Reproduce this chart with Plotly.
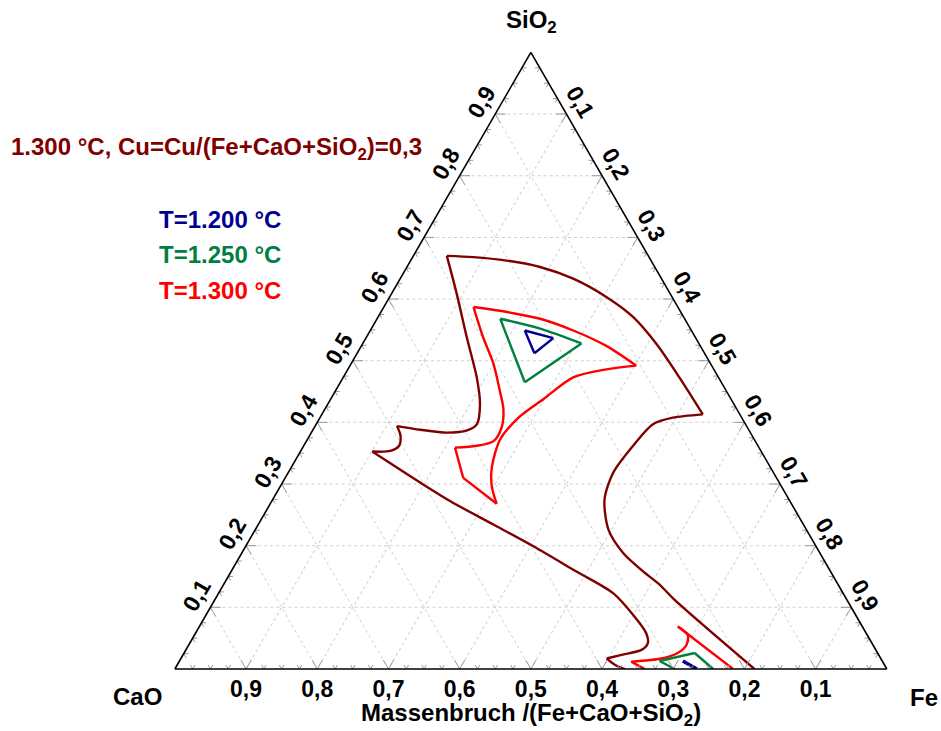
import plotly.graph_objects as go

FONT = "Liberation Sans, Arial, sans-serif"

# Mass fractions (SiO2, CaO, Fe) of the liquid-region boundaries

# 1.300 °C, Cu/(Fe+CaO+SiO2)=0,3 - outer boundary (open, both ends on the CaO-Fe side)
outer_sio2 = [0.000, 0.112, 0.137, 0.158, 0.188, 0.226, 0.275, 0.318, 0.362, 0.397,
              0.408, 0.413, 0.473, 0.527, 0.571, 0.603, 0.633, 0.652, 0.663, 0.668,
              0.670, 0.608, 0.538, 0.473, 0.430, 0.397, 0.387, 0.383, 0.388, 0.394,
              0.378, 0.362, 0.354, 0.353, 0.302, 0.272, 0.234, 0.199, 0.158, 0.123,
              0.085, 0.058, 0.042, 0.031, 0.023, 0.017, 0.007, 0.000]
outer_cao = [0.186, 0.242, 0.251, 0.263, 0.276, 0.278, 0.259, 0.225, 0.176, 0.130,
             0.097, 0.052, 0.055, 0.060, 0.071, 0.092, 0.124, 0.161, 0.203, 0.247,
             0.283, 0.300, 0.321, 0.340, 0.357, 0.378, 0.396, 0.426, 0.461, 0.491,
             0.494, 0.505, 0.521, 0.547, 0.504, 0.477, 0.435, 0.397, 0.357, 0.323,
             0.312, 0.309, 0.315, 0.329, 0.361, 0.385, 0.379, 0.368]
outer_fe = [0.814, 0.646, 0.613, 0.579, 0.535, 0.496, 0.466, 0.456, 0.463, 0.473,
            0.496, 0.535, 0.473, 0.413, 0.358, 0.305, 0.243, 0.187, 0.135, 0.085,
            0.047, 0.092, 0.141, 0.188, 0.214, 0.226, 0.217, 0.190, 0.151, 0.115,
            0.128, 0.134, 0.126, 0.101, 0.194, 0.251, 0.330, 0.404, 0.485, 0.554,
            0.603, 0.633, 0.644, 0.640, 0.616, 0.598, 0.615, 0.632]
outer_corners = [0, 11, 20, 29, 33, 45, 47]

# T = 1.300 °C
t1300_sio2 = [0.587, 0.579, 0.568, 0.549, 0.524, 0.492, 0.486, 0.473, 0.438, 0.410,
              0.373, 0.329, 0.297, 0.268, 0.310, 0.359, 0.362, 0.370, 0.392, 0.421,
              0.451, 0.495, 0.538, 0.587]
t1300_cao = [0.287, 0.244, 0.203, 0.166, 0.132, 0.106, 0.151, 0.204, 0.264, 0.310,
             0.357, 0.390, 0.407, 0.414, 0.440, 0.427, 0.395, 0.368, 0.345, 0.328,
             0.318, 0.305, 0.298, 0.287]
t1300_fe = [0.126, 0.177, 0.229, 0.285, 0.344, 0.402, 0.363, 0.323, 0.299, 0.280,
            0.271, 0.281, 0.297, 0.318, 0.250, 0.214, 0.243, 0.263, 0.263, 0.251,
            0.231, 0.200, 0.164, 0.126]
t1300_corners = [0, 5, 13, 14, 15, 23]
t1300_low_sio2 = [0.000, 0.012, 0.017, 0.026, 0.039, 0.055, 0.069, 0.000]
t1300_low_cao = [0.340, 0.353, 0.308, 0.281, 0.262, 0.252, 0.259, 0.216]
t1300_low_fe = [0.660, 0.635, 0.675, 0.694, 0.699, 0.693, 0.672, 0.784]
t1300_low_corners = [0, 1, 6, 7]

# T = 1.250 °C
t1250_sio2 = [0.568, 0.552, 0.528, 0.465, 0.568]
t1250_cao = [0.259, 0.211, 0.165, 0.276, 0.259]
t1250_fe = [0.173, 0.237, 0.307, 0.259, 0.173]
t1250_corners = [0, 2, 3, 4]
t1250_low_sio2 = [0.000, 0.013, 0.026, 0.000]
t1250_low_cao = [0.298, 0.313, 0.257, 0.244]
t1250_low_fe = [0.702, 0.675, 0.717, 0.756]
t1250_low_corners = [0, 1, 2, 3]

# T = 1.200 °C
t1200_sio2 = [0.549, 0.536, 0.512, 0.549]
t1200_cao = [0.234, 0.200, 0.239, 0.234]
t1200_fe = [0.217, 0.263, 0.249, 0.217]
t1200_corners = [0, 1, 2, 3]
t1200_low_sio2 = [0.013, 0.000]
t1200_low_cao = [0.280, 0.267]
t1200_low_fe = [0.707, 0.733]
t1200_low_corners = [0, 1]

tick_values = [0.1, 0.2, 0.3, 0.4, 0.5, 0.6, 0.7, 0.8, 0.9]
minor_step = 0.025

C_OUTER = "#800000"
C_1300 = "#ff0000"
C_1250 = "#008040"
C_1200 = "#000090"
C_TICK = "#9a9a9a"

fig = go.Figure()


def add_curve(sio2, cao, fe, corners, color, width=2.4):
    # each run between two corner points is drawn as a smooth spline,
    # so the sharp corners of the boundary stay sharp
    for i0, i1 in zip(corners[:-1], corners[1:]):
        seg = slice(i0, i1 + 1)
        smooth = (i1 - i0) > 1
        fig.add_trace(go.Scatterternary(
            a=sio2[seg], b=cao[seg], c=fe[seg], mode="lines",
            line=dict(color=color, width=width,
                      shape="spline" if smooth else "linear", smoothing=0.8),
            showlegend=False, hoverinfo="skip"))


add_curve(outer_sio2, outer_cao, outer_fe, outer_corners, C_OUTER)
add_curve(t1300_sio2, t1300_cao, t1300_fe, t1300_corners, C_1300)
add_curve(t1300_low_sio2, t1300_low_cao, t1300_low_fe, t1300_low_corners, C_1300)
add_curve(t1250_sio2, t1250_cao, t1250_fe, t1250_corners, C_1250)
add_curve(t1250_low_sio2, t1250_low_cao, t1250_low_fe, t1250_low_corners, C_1250)
add_curve(t1200_sio2, t1200_cao, t1200_fe, t1200_corners, C_1200)
add_curve(t1200_low_sio2, t1200_low_cao, t1200_low_fe, t1200_low_corners, C_1200,
          width=3.6)

# chevron tick marks along the three sides (major every 0.1, minor every 0.025)
edge_a, edge_b, edge_c = [], [], []
for k in range(1, 40):
    v = k * minor_step
    d = 0.0145 if k % 4 == 0 else 0.0065
    # bottom side (SiO2 = 0), value = CaO
    edge_a += [d, 0, d, None]
    edge_b += [v, v, v - d, None]
    edge_c += [1 - v - d, 1 - v, 1 - v, None]
    # left side (Fe = 0), value = SiO2
    edge_a += [v, v, v - d, None]
    edge_b += [1 - v - d, 1 - v, 1 - v, None]
    edge_c += [d, 0, d, None]
    # right side (CaO = 0), value = Fe
    edge_a += [1 - v, 1 - v, 1 - v - d, None]
    edge_b += [d, 0, d, None]
    edge_c += [v - d, v, v, None]
fig.add_trace(go.Scatterternary(
    a=edge_a, b=edge_b, c=edge_c, mode="lines",
    line=dict(color=C_TICK, width=1), connectgaps=False,
    showlegend=False, hoverinfo="skip"))

tick_font = dict(family=FONT, size=23, color="black", weight="bold")
axis_common = dict(
    tickmode="array", tickvals=tick_values, tickformat=".1f",
    ticks="", showline=True, linecolor="black", linewidth=1.6,
    showgrid=True, gridcolor="#cfcfcf", gridwidth=1, griddash="dot",
    tickfont=tick_font, min=0, title=dict(text=""),
)

W, H = 941, 731


def px(xp, yp):
    return xp / W, 1 - yp / H


ann_font = dict(family=FONT, size=24, weight="bold")
annotations = []


def label(text, xp, yp, color="black", xanchor="center"):
    x, y = px(xp, yp)
    annotations.append(dict(
        text=text, x=x, y=y, xref="paper", yref="paper",
        xanchor=xanchor, yanchor="middle", showarrow=False,
        font=dict(ann_font, color=color)))


label("1.300 °C, Cu=Cu/(Fe+CaO+SiO<sub>2</sub>)=0,3", 9, 148.5, C_OUTER, "left")
label("T=1.200 °C", 157, 219.5, C_1200, "left")
label("T=1.250 °C", 157, 254.7, C_1250, "left")
label("T=1.300 °C", 157, 290, C_1300, "left")
label("SiO<sub>2</sub>", 531, 21.5)
label("CaO", 137.5, 696)
label("Fe", 923.5, 697)
label("Massenbruch /(Fe+CaO+SiO<sub>2</sub>)", 530.6, 714.5)

fig.update_layout(
    width=W, height=H,
    margin=dict(l=0, r=0, t=0, b=0),
    paper_bgcolor="white",
    separators=",.",
    showlegend=False,
    ternary=dict(
        sum=1,
        bgcolor="white",
        domain=dict(x=[174.85 / W, 886.85 / W], y=[1 - 669 / H, 1 - 52.4 / H]),
        aaxis=dict(axis_common, tickangle=-60),
        baxis=dict(axis_common, tickangle=0),
        caxis=dict(axis_common, tickangle=60),
    ),
    annotations=annotations,
)

fig.write_html("out.html", config={"displayModeBar": False})
